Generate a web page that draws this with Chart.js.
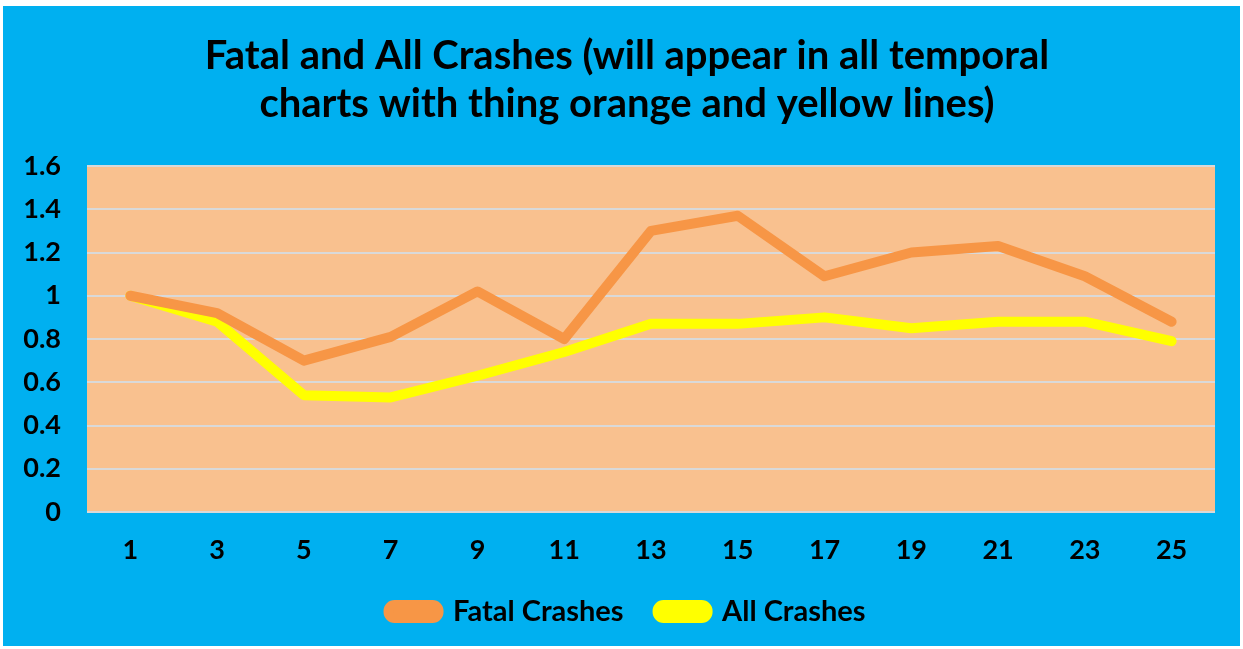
<!DOCTYPE html>
<html>
<head>
<meta charset="utf-8">
<script src="https://cdn.jsdelivr.net/npm/chart.js@4.4.0/dist/chart.umd.min.js"></script>
<style>
  html, body { margin: 0; padding: 0; background: #ffffff; }
  #wrap {
    position: absolute; left: 3px; top: 6px;
    width: 1237px; height: 640px;
    background: #00b0f0;
  }
</style>
</head>
<body>
<div id="wrap"><canvas id="chart" width="1237" height="640"></canvas></div>
<script>
// data
const periods = ['1', '3', '5', '7', '9', '11', '13', '15', '17', '19', '21', '23', '25'];
const fatalCrashes = [1.0, 0.92, 0.70, 0.81, 1.02, 0.80, 1.30, 1.37, 1.09, 1.20, 1.23, 1.09, 0.88];
const allCrashes = [1.0, 0.88, 0.54, 0.53, 0.63, 0.74, 0.87, 0.87, 0.90, 0.85, 0.88, 0.88, 0.79];
const yTicks = [0, 0.2, 0.4, 0.6, 0.8, 1, 1.2, 1.4, 1.6];

const FONT = 'Lato, "DejaVu Sans", sans-serif';

// plot area fill
const plotBg = {
  id: 'plotBg',
  beforeDraw(chart) {
    const { ctx, chartArea: a } = chart;
    ctx.save();
    ctx.fillStyle = '#f9c18f';
    ctx.fillRect(a.left, a.top, a.right - a.left, a.bottom - a.top);
    ctx.restore();
  }
};

// title and legend sit a bit right of the canvas centre in the original
const nudgeBlocks = {
  id: 'nudgeBlocks',
  afterLayout(chart) {
    [chart.titleBlock, chart.legend].forEach(b => {
      if (!b) return;
      b.left += 18;
      b.right += 18;
    });
  }
};

new Chart(document.getElementById('chart'), {
  type: 'line',
  data: {
    labels: periods,
    datasets: [
      {
        label: 'Fatal Crashes',
        data: fatalCrashes,
        borderColor: '#f79646',
        backgroundColor: '#f79646',
        borderWidth: 10,
        borderCapStyle: 'round',
        borderJoinStyle: 'round',
        pointRadius: 0,
        tension: 0
      },
      {
        label: 'All Crashes',
        data: allCrashes,
        borderColor: '#ffff00',
        backgroundColor: '#ffff00',
        borderWidth: 10,
        borderCapStyle: 'round',
        borderJoinStyle: 'round',
        pointRadius: 0,
        tension: 0
      }
    ]
  },
  options: {
    responsive: false,
    animation: false,
    layout: { padding: { left: 0, right: 25, top: 0, bottom: 10 } },
    scales: {
      x: {
        offset: true,
        afterFit: (s) => { s.height = 51; },
        grid: { display: false, offset: true },
        border: { display: false },
        ticks: { color: '#000', font: { family: FONT, size: 27, weight: 'bold' }, padding: 14 }
      },
      y: {
        min: 0,
        max: 1.6,
        afterFit: (s) => { s.width = 84; },
        afterBuildTicks: (s) => { s.ticks = yTicks.map(v => ({ value: v })); },
        grid: { color: '#d9d9d9', lineWidth: 2, drawTicks: false },
        border: { display: false },
        ticks: {
          color: '#000',
          font: { family: FONT, size: 27, weight: 'bold' },
          padding: 26,
          callback: (v) => String(v)
        }
      }
    },
    plugins: {
      title: {
        display: true,
        text: ['Fatal and All Crashes (will appear in all temporal', 'charts with thing orange and yellow lines)'],
        color: '#000',
        font: { family: FONT, size: 40, weight: 'bold' },
        lineHeight: 1.25,
        padding: { top: 26, bottom: 38 }
      },
      legend: {
        position: 'bottom',
        labels: {
          color: '#000',
          font: { family: FONT, size: 29, weight: 'bold' },
          boxWidth: 50,
          boxHeight: 13,
          useBorderRadius: true,
          borderRadius: 6,
          padding: 34
        }
      },
      tooltip: { enabled: false }
    }
  },
  plugins: [plotBg, nudgeBlocks]
});
</script>
</body>
</html>
